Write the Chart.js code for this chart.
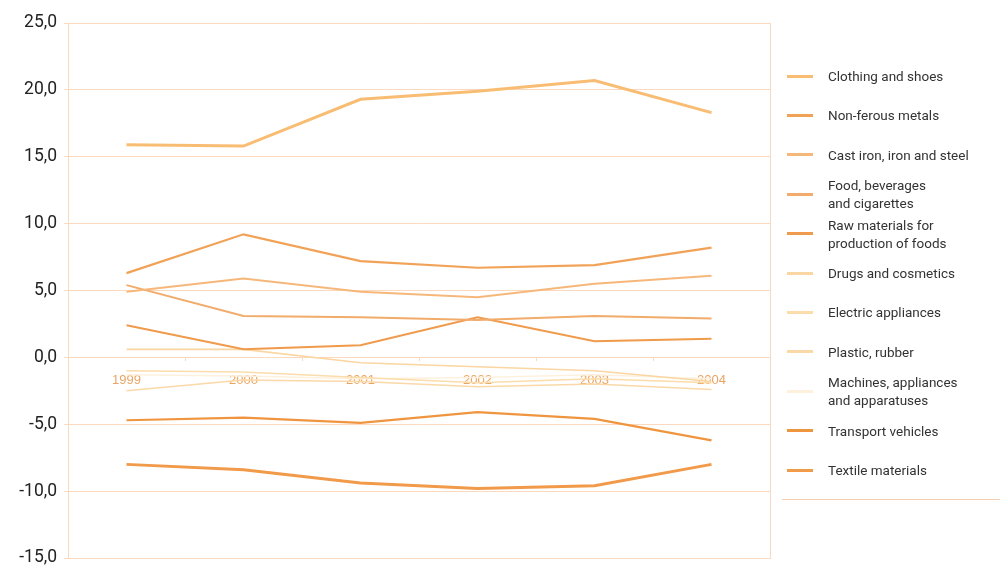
<!DOCTYPE html>
<html>
<head>
<meta charset="utf-8">
<script src="https://cdn.jsdelivr.net/npm/chart.js@4.4.1/dist/chart.umd.min.js"></script>
<style>
  html, body { margin: 0; padding: 0; background: #fff; }
  #wrap { position: relative; width: 1000px; height: 566px; }
  #c { position: absolute; left: 0; top: 0; }
  #legend { position: absolute; left: 0; top: 0; width: 1000px; height: 566px; pointer-events: none;
            font-family: Roboto, "Noto Sans", sans-serif; font-size: 13.5px; color: #333; }
  .item { position: absolute; left: 787px; display: flex; align-items: center; }
  .sw { width: 26px; margin-right: 15px; }
  .lab { line-height: 18px; white-space: pre; }
  #sep { position: absolute; left: 782px; top: 499px; width: 218px; height: 1px; background: #f8cfae; }
</style>
</head>
<body>
<div id="wrap">
  <canvas id="c" width="1000" height="566"></canvas>
  <div id="legend"><div id="sep"></div></div>
</div>
<script>
const years = ["1999", "2000", "2001", "2002", "2003", "2004"];
const yTicks = [-15, -10, -5, 0, 5, 10, 15, 20, 25];

const seriesNames = [
  "Clothing and shoes",
  "Non-ferous metals",
  "Cast iron, iron and steel",
  "Food, beverages\nand cigarettes",
  "Raw materials for\nproduction of foods",
  "Drugs and cosmetics",
  "Electric appliances",
  "Plastic, rubber",
  "Machines, appliances\nand apparatuses",
  "Transport vehicles",
  "Textile materials"
];

const clothing  = [15.9, 15.8, 19.3, 19.9, 20.7, 18.3];
const nonFerous = [6.3, 9.2, 7.2, 6.7, 6.9, 8.2];
const castIron  = [4.9, 5.9, 4.9, 4.5, 5.5, 6.1];
const food      = [5.4, 3.1, 3.0, 2.8, 3.1, 2.9];
const rawMat    = [2.4, 0.6, 0.9, 3.0, 1.2, 1.4];
const drugs     = [0.6, 0.6, -0.4, -0.7, -1.0, -1.8];
const electric  = [-1.0, -1.1, -1.5, -1.9, -1.6, -1.9];
const plastic   = [-2.5, -1.7, -1.8, -2.2, -2.0, -2.4];
const machines  = [-1.3, -1.4, -1.6, -1.5, -1.3, -1.6];
const transport = [-4.7, -4.5, -4.9, -4.1, -4.6, -6.2];
const textile   = [-8.0, -8.4, -9.4, -9.8, -9.6, -8.0];

const seriesValues = [clothing, nonFerous, castIron, food, rawMat, drugs, electric, plastic, machines, transport, textile];
const seriesColors = ["#f8bd72", "#f2a257", "#f6b77a", "#f1ab6a", "#f09a4c", "#fad6a2", "#fcdcaa", "#fbd8a8", "#fdf1de", "#f0953f", "#f19a4a"];
const seriesWidths = [3, 2.2, 2, 2, 2, 1.6, 1.5, 1.5, 1.5, 2.2, 3];

const gridColor = "#fad9bf";

const datasets = seriesNames.map((n, i) => ({
  label: n.replace("\n", " "),
  data: seriesValues[i],
  borderColor: seriesColors[i],
  backgroundColor: seriesColors[i],
  borderWidth: seriesWidths[i],
  pointRadius: 0,
  tension: 0,
  fill: false
}));

new Chart(document.getElementById("c"), {
  type: "line",
  data: { labels: years, datasets: datasets },
  options: {
    responsive: false,
    animation: false,
    layout: { padding: { top: 23, right: 230, bottom: 8, left: 0 } },
    plugins: { legend: { display: false }, tooltip: { enabled: false } },
    scales: {
      x: {
        position: { y: 0 },
        offset: true,
        afterFit: (axis) => { axis.height = 0; axis.paddingLeft = 0; axis.paddingRight = 0; },
        border: { display: false },
        grid: { display: true, drawOnChartArea: false, drawTicks: true, tickLength: 4, color: gridColor, offset: true },
        ticks: { color: "#eaa565", font: { family: "Liberation Sans, Arial, sans-serif", size: 13 }, padding: 11 }
      },
      y: {
        min: -15, max: 25,
        afterBuildTicks: (axis) => { axis.ticks = yTicks.map(v => ({ value: v })); },
        afterFit: (axis) => { axis.width = 68; axis.paddingTop = 0; axis.paddingBottom = 0; },
        border: { display: true, color: gridColor, width: 1 },
        grid: { color: gridColor, lineWidth: 1, tickLength: 4 },
        ticks: {
          color: "#222",
          font: { family: "Roboto, 'Noto Sans', sans-serif", size: 17.5 },
          padding: 7,
          callback: (v) => Number(v).toFixed(1).replace(".", ",")
        }
      },
      y2: {
        position: "right",
        min: -15, max: 25,
        afterFit: (axis) => { axis.width = 0; axis.paddingTop = 0; axis.paddingBottom = 0; },
        border: { display: true, color: gridColor, width: 1 },
        grid: { display: false },
        ticks: { display: false }
      }
    }
  }
});

// HTML legend built from the series arrays
const legend = document.getElementById("legend");
seriesNames.forEach((n, i) => {
  const it = document.createElement("div");
  it.className = "item";
  it.style.top = (76 + i * 39.4) + "px";
  it.style.transform = "translateY(-50%)";
  const sw = document.createElement("div");
  sw.className = "sw";
  sw.style.height = "3px";
  sw.style.background = seriesColors[i];
  const lab = document.createElement("div");
  lab.className = "lab";
  lab.textContent = n;
  it.appendChild(sw);
  it.appendChild(lab);
  legend.appendChild(it);
});
</script>
</body>
</html>
